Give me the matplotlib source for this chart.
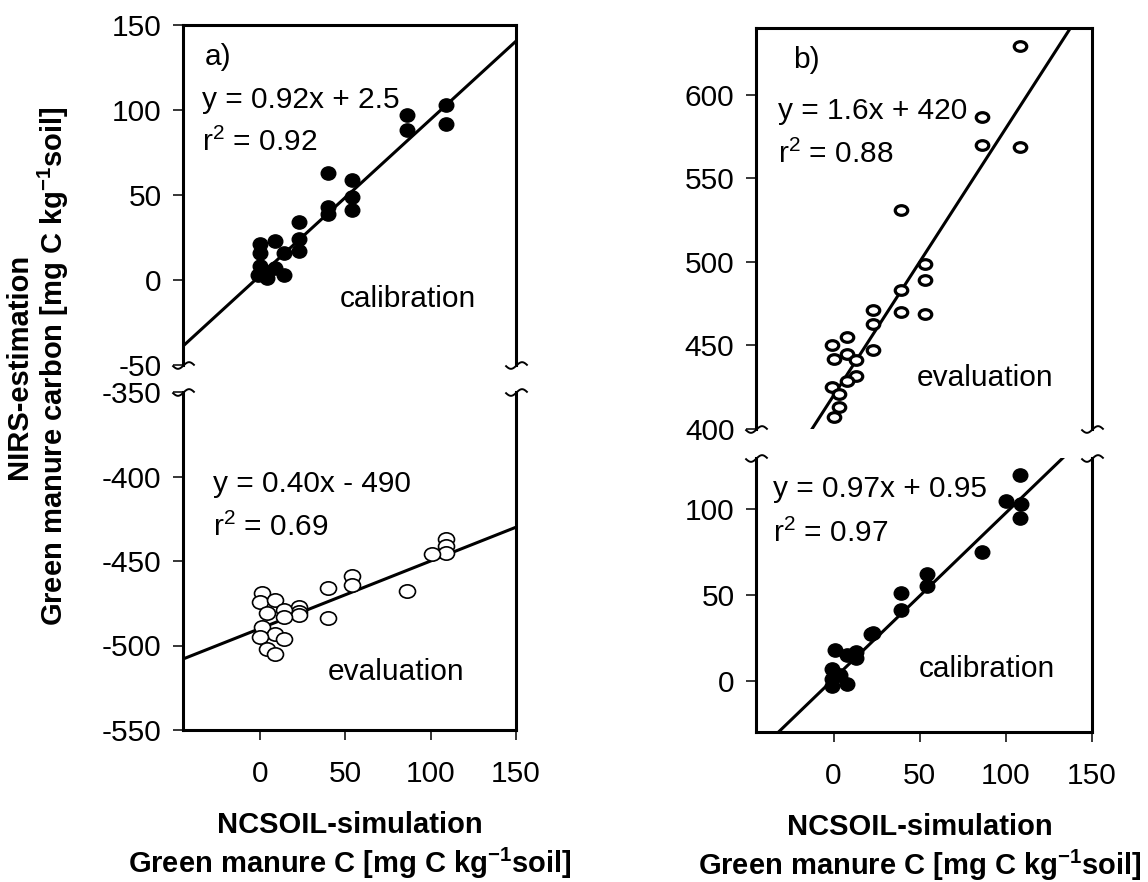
import numpy as np
import matplotlib
matplotlib.use('Agg')
import matplotlib.pyplot as plt
from matplotlib.path import Path
from matplotlib.transforms import Affine2D

plt.rcParams['font.family'] = ['Liberation Sans', 'DejaVu Sans']
plt.rcParams['font.size'] = 21.5
plt.rcParams['axes.unicode_minus'] = False
plt.rcParams['mathtext.fontset'] = 'custom'
plt.rcParams['mathtext.rm'] = 'Liberation Sans'
plt.rcParams['mathtext.bf'] = 'Liberation Sans:bold'
plt.rcParams['mathtext.default'] = 'regular'

# a) calibration (filled) and evaluation (open)
cal_a_x = [109, 109, 86, 86, 40, 40, 40, 54, 54, 54, 23, 23, 23, 0, 9, 14, 0, 0, 4, 4, 9, 14, -1]
cal_a_y = [103, 92, 97, 88, 63, 43, 39, 59, 49, 41, 34, 24, 17, 21, 23, 16, 16, 8, 5, 1, 7, 3, 3]
eval_a_x = [109, 109, 109, 101, 86, 54, 54, 40, 40, 23, 23, 23, 1, 0, 9, 14, 4, 14, 1, 9, 0, 14, 4, 9]
eval_a_y = [-437, -441, -445, -446, -468, -459, -464, -466, -484, -477, -480, -482,
            -469, -474, -473, -479, -481, -483, -489, -493, -495, -496, -502, -505]

# b) evaluation (open) and calibration (filled)
eval_b_x = [108, 86, 86, 108, 39, 53, 53, 53, 39, 39, 23, 23, 23, 8, -1, 0, 8, 13, 13, 8, -1, 3, 3, 0]
eval_b_y = [629, 587, 570, 569, 531, 499, 489, 469, 483, 470, 471, 463, 447, 455, 450, 442,
            445, 441, 432, 429, 425, 421, 413, 407]
cal_b_x = [108, 100, 109, 108, 86, 54, 54, 39, 39, 23, 22, 13, 13, 1, 8, -1, -1, -1, 8, 4]
cal_b_y = [120, 105, 103, 95, 75, 62, 55, 51, 41, 28, 27, 17, 13, 18, 15, 7, 1, -3, -2, 3]

# regression coefficients (slope, intercept, r2)
fit_cal_a = (0.92, 2.5, 0.92)
fit_eval_a = (0.40, -490, 0.69)
fit_eval_b = (1.6, 420, 0.88)
fit_cal_b = (0.97, 0.95, 0.97)

W, H = 1148, 882
fig = plt.figure(figsize=(W/100, H/100), dpi=100)


def new_ax(x0, y0, x1, y1):
    # axes from pixel box (top-left origin)
    return fig.add_axes([x0/W, 1 - y1/H, (x1 - x0)/W, (y1 - y0)/H])


def ellipse(aspect):
    c = Path.unit_circle()
    return c.transformed(Affine2D().scale(aspect, 1.0))


# small wave for the axis breaks
t = np.linspace(-1, 1, 40)
wave = Path(np.column_stack([t, 0.3*np.sin(np.pi*t)]))


def style(ax, top_part):
    for s in ax.spines.values():
        s.set_linewidth(2.2)
    ax.tick_params(direction='out', length=7.5, width=1.1, pad=8, right=False, top=False)
    if top_part:
        ax.spines['bottom'].set_visible(False)
        ax.tick_params(bottom=False, labelbottom=False)
        ypos = 0
    else:
        ax.spines['top'].set_visible(False)
        ax.tick_params(axis='x', pad=14)
        ypos = 1
    ax.plot([0, 1], [ypos, ypos], transform=ax.transAxes, ls='none', marker=wave,
            ms=16, mfc='none', mec='k', mew=1.4, clip_on=False, zorder=5)


def fit_line(ax, fit):
    xx = np.array([-45, 150])
    ax.plot(xx, fit[0]*xx + fit[1], 'k', lw=2.2, zorder=1)


def eq_text(ax, eq, r2, x, y1, y2):
    ax.text(x, y1, eq, transform=ax.transAxes)
    ax.text(x, y2, r'r$^{2}$' + ' = {:.2f}'.format(r2), transform=ax.transAxes)


# panel a, upper part
ax1 = new_ax(183, 25, 516, 365)
fit_line(ax1, fit_cal_a)
ax1.plot(cal_a_x, cal_a_y, ls='none', marker=ellipse(1.1), ms=10.5, mfc='k', mec='k', zorder=3)
ax1.set_xlim(-45, 150)
ax1.set_ylim(-50, 150)
ax1.set_yticks([-50, 0, 50, 100, 150])
style(ax1, True)
ax1.text(0.066, 0.905, 'a)', transform=ax1.transAxes, va='center')
eq_text(ax1, 'y = {:.2f}x + {:.1f}'.format(fit_cal_a[0], fit_cal_a[1]), fit_cal_a[2],
        0.056, 0.757, 0.629)
ax1.text(0.471, 0.170, 'calibration', transform=ax1.transAxes)

# panel a, lower part
ax2 = new_ax(183, 392, 516, 730)
fit_line(ax2, fit_eval_a)
ax2.plot(eval_a_x, eval_a_y, ls='none', marker=ellipse(1.2), ms=11.5, mfc='white', mec='k',
         mew=1.2, zorder=3)
ax2.set_xlim(-45, 150)
ax2.set_ylim(-550, -350)
ax2.set_xticks([0, 50, 100, 150])
ax2.set_yticks([-550, -500, -450, -400, -350])
style(ax2, False)
eq_text(ax2, 'y = {:.2f}x - {:.0f}'.format(fit_eval_a[0], -fit_eval_a[1]), fit_eval_a[2],
        0.091, 0.705, 0.574)
ax2.text(0.436, 0.148, 'evaluation', transform=ax2.transAxes)

# panel b, upper part
ax3 = new_ax(756, 28, 1092, 429)
fit_line(ax3, fit_eval_b)
ax3.plot(eval_b_x, eval_b_y, ls='none', marker=ellipse(1.3), ms=9, mfc='white', mec='k',
         mew=2.3, zorder=3)
ax3.set_xlim(-45, 150)
ax3.set_ylim(400, 640)
ax3.set_yticks([400, 450, 500, 550, 600])
style(ax3, True)
ax3.text(0.110, 0.921, 'b)', transform=ax3.transAxes, va='center')
eq_text(ax3, 'y = {:.1f}x + {:.0f}'.format(fit_eval_b[0], fit_eval_b[1]), fit_eval_b[2],
        0.066, 0.772, 0.663)
ax3.text(0.478, 0.107, 'evaluation', transform=ax3.transAxes)

# panel b, lower part
ax4 = new_ax(756, 458, 1092, 732)
fit_line(ax4, fit_cal_b)
ax4.plot(cal_b_x, cal_b_y, ls='none', marker=ellipse(1.1), ms=10.5, mfc='k', mec='k', zorder=3)
ax4.set_xlim(-45, 150)
ax4.set_ylim(-30, 130)
ax4.set_xticks([0, 50, 100, 150])
ax4.set_yticks([0, 50, 100])
style(ax4, False)
eq_text(ax4, 'y = {:.2f}x + {:.2f}'.format(fit_cal_b[0], fit_cal_b[1]), fit_cal_b[2],
        0.052, 0.859, 0.695)
ax4.text(0.483, 0.202, 'calibration', transform=ax4.transAxes)

# axis titles
fig.text(38/W, 1 - 366/H, 'NIRS-estimation\n' + r'Green manure carbon [mg C kg$^{\mathbf{-1}}$soil]',
         rotation=90, ha='center', va='center', fontsize=21, fontweight='bold',
         linespacing=1.1, multialignment='center')
xlab = 'NCSOIL-simulation\n' + r'Green manure C [mg C kg$^{\mathbf{-1}}$soil]'
fig.text(350/W, 1 - 811/H, xlab, ha='center', va='top', fontsize=21, fontweight='bold',
         linespacing=1.25, multialignment='center')
fig.text(920/W, 1 - 813/H, xlab, ha='center', va='top', fontsize=21, fontweight='bold',
         linespacing=1.25, multialignment='center')

fig.savefig('out.png', dpi=100)
